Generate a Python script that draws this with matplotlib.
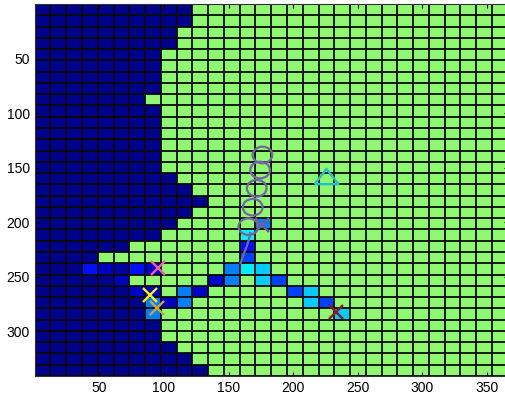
import numpy as np
import matplotlib
matplotlib.use("Agg")
import matplotlib.pyplot as plt
from matplotlib.colors import ListedColormap, BoundaryNorm
from matplotlib.patches import Circle

# cell classes, one string per row (top to bottom), one char per column
# n navy, e dark blue, d blue, b bright blue, m mid blue, a azure, c cyan, q light cyan, g green
grid_rows = [
    "n" * 10 + "g" * 20,
    "n" * 10 + "g" * 20,
    "n" * 9 + "g" * 21,
    "n" * 9 + "g" * 21,
    "n" * 8 + "g" * 22,
    "n" * 8 + "g" * 22,
    "n" * 8 + "g" * 22,
    "n" * 8 + "g" * 22,
    "n" * 7 + "g" * 23,
    "n" * 8 + "g" * 22,
    "n" * 8 + "g" * 22,
    "n" * 8 + "g" * 22,
    "n" * 8 + "g" * 22,
    "n" * 8 + "g" * 22,
    "n" * 8 + "g" * 22,
    "n" * 9 + "g" * 21,
    "n" * 10 + "g" * 20,
    "n" * 11 + "g" * 19,
    "n" * 10 + "g" * 20,
    "n" * 9 + "g" * 5 + "a" + "g" * 15,
    "n" * 8 + "g" * 5 + "q" + "g" * 16,
    "n" * 6 + "g" * 7 + "b" + "g" * 16,
    "n" * 4 + "g" * 9 + "m" + "g" * 16,
    "n" * 3 + "bdebd" + "g" * 4 + "aqc" + "g" * 15,
    "n" * 5 + "d" + "g" * 5 + "dagcm" + "g" * 14,
    "n" * 6 + "ddgad" + "g" * 5 + "mc" + "g" * 12,
    "n" * 7 + "ada" + "g" * 7 + "cm" + "g" * 11,
    "n" * 7 + "a" + "g" * 11 + "c" + "g" * 10,
    "n" * 8 + "g" * 22,
    "n" * 8 + "g" * 22,
    "n" * 9 + "g" * 21,
    "n" * 10 + "g" * 20,
    "n" * 11 + "g" * 19,
]
codes = ["n", "e", "d", "b", "m", "a", "c", "q", "g"]
code_colors = ["#00008c", "#0000a4", "#0000c4", "#0010f8", "#0040ff",
               "#0080ff", "#00ccff", "#00f0f4", "#8ff870"]

x_max = 366
y_max = 341

# track of circles and tail
circle_x = [176.2, 174.4, 171.8, 168.7, 165.3]
circle_y = [138.4, 152.2, 168.9, 186.3, 204.1]
tail_x = [166.8, 165.6, 163.8, 161.6, 159.4]
tail_y = [210.0, 216.5, 223.0, 229.5, 237.4]

# cross markers
cross_x = [175.7, 95.7, 89.6, 94.4, 233.2]
cross_y = [202.6, 242.3, 266.7, 278.9, 281.9]
cross_colors = ["#6f5f9e", "#ee5fa7", "#f2f20a", "#c9a53c", "#8b1a2b"]

tri_x = [225.3]
tri_y = [158.0]

plt.rcParams["font.family"] = ["Liberation Sans", "DejaVu Sans"]
plt.rcParams["font.size"] = 10

fig = plt.figure(figsize=(5.05, 4.03), dpi=100)
ax = fig.add_axes([34.7 / 505, 27 / 403, 473 / 505, 372 / 403])

vals = np.array([[codes.index(ch) for ch in row] for row in grid_rows])
nrow, ncol = vals.shape
xe = np.linspace(0, x_max, ncol + 1)
ye = np.linspace(0, y_max, nrow + 1)
cmap = ListedColormap(code_colors)
norm = BoundaryNorm(np.arange(len(codes) + 1) - 0.5, cmap.N)
ax.pcolormesh(xe, ye, vals, cmap=cmap, norm=norm, edgecolors="none")
# cell borders
ax.vlines(xe, 0, y_max, color="#0a0a0a", lw=1.3, zorder=2)
ax.hlines(ye, 0, x_max, color="#0a0a0a", lw=1.3, zorder=2)

for cx, cy in zip(circle_x, circle_y):
    ax.add_patch(Circle((cx, cy), 7.6, fill=False, ec="#7565a3", lw=1.6, zorder=5))
ax.plot(tail_x, tail_y, color="#7565a3", lw=1.6, zorder=5)

for x, y, c in zip(cross_x, cross_y, cross_colors):
    ax.plot(x, y, marker="x", ms=10, mew=1.7, color=c, ls="", zorder=6)

tri = [(-1, -0.65), (1, -0.65), (0, 0.65), (-1, -0.65)]
ax.plot(tri_x, tri_y, marker=tri, ms=17, mfc="none", mec="#20c0c8", mew=1.7, ls="", zorder=6)

ax.set_xlim(0, x_max)
ax.set_ylim(y_max, 0)
ax.set_xticks([50, 100, 150, 200, 250, 300, 350])
ax.set_yticks([50, 100, 150, 200, 250, 300])
ax.tick_params(direction="in", length=3, width=0.8, top=True, right=True)
for s in ax.spines.values():
    s.set_color("#333333")

fig.savefig("out.png", dpi=100)
